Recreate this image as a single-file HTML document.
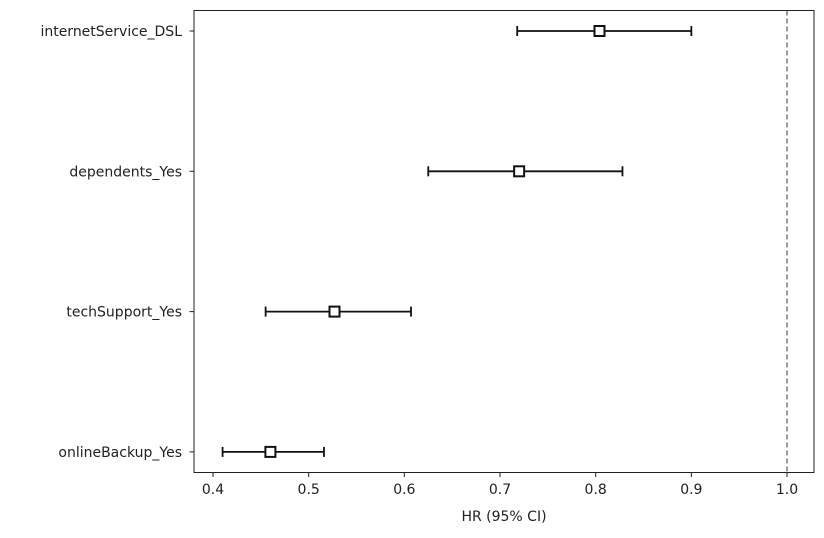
<!DOCTYPE html>
<html><head><meta charset="utf-8"><style>
body{margin:0;background:#fff;}
svg text{font-family:"DejaVu Sans","Liberation Sans",sans-serif;font-size:14px;fill:#222;}
</style></head><body>
<svg id="chart" width="824" height="533">
<rect x="194" y="10.5" width="620" height="462" fill="none" stroke="#222" stroke-width="1"/>
<g id="marks"></g>
</svg>
<script>
const categories=["internetService_DSL","dependents_Yes","techSupport_Yes","onlineBackup_Yes"];
const hr=[0.804,0.720,0.527,0.460];
const lower=[0.718,0.625,0.455,0.410];
const upper=[0.900,0.828,0.607,0.516];
const ticks=[0.4,0.5,0.6,0.7,0.8,0.9,1.0];
const tickLabels=["0.4","0.5","0.6","0.7","0.8","0.9","1.0"];
const refLine=1.0;
const NS="http://www.w3.org/2000/svg";
const svg=document.getElementById('chart');
const g=document.getElementById('marks');
function xs(v){return 213+(v-0.4)*956.7;}
function ys(i){return 31+i*140.3;}
function mk(tag,attrs,parent){const e=document.createElementNS(NS,tag);for(const k in attrs)e.setAttribute(k,attrs[k]);(parent||g).appendChild(e);return e;}
const ref=mk('line',{x1:xs(refLine),x2:xs(refLine),y1:10.5,y2:472.5,stroke:'#555','stroke-dasharray':'5,3','stroke-width':1.2});


ticks.forEach((t,i)=>{
  const l=mk('line',{x1:xs(t),x2:xs(t),y1:472.5,y2:477,stroke:'#222'});
  
  
  const tx=mk('text',{x:xs(t),y:494,'text-anchor':'middle'});
  tx.textContent=tickLabels[i];
  
  
});
const xt=mk('text',{x:504,y:521,'text-anchor':'middle'});
xt.textContent="HR (95% CI)";


categories.forEach((c,i)=>{
  const y=ys(i);
  const tk=mk('line',{x1:189.5,x2:194,y1:y,y2:y,stroke:'#222'});
  
  
  const lb=mk('text',{x:182,y:y+5,'text-anchor':'end'});
  lb.textContent=c;
  
  
  const ci=mk('line',{x1:xs(lower[i]),x2:xs(upper[i]),y1:y,y2:y,stroke:'#111','stroke-width':1.8});
  
  
  [lower[i],upper[i]].forEach(v=>{
    const cap=mk('line',{x1:xs(v),x2:xs(v),y1:y-5,y2:y+5,stroke:'#111','stroke-width':1.8});
    
    
  });
  const sq=mk('rect',{x:xs(hr[i])-5,y:y-5,width:10,height:10,fill:'#fff',stroke:'#111','stroke-width':2});
  
  
});
</script>
</body></html>
